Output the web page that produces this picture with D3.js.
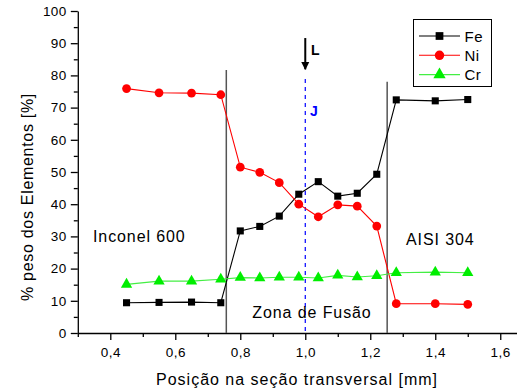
<!DOCTYPE html>
<meta charset="utf-8">
<title>Perfil de composição</title>
<style>
body { margin: 0; background: #fff; }
text { font-family: "Liberation Sans", Arial, sans-serif; }
</style>
<body>
<div id="chart"></div>
<script src="https://cdn.jsdelivr.net/npm/d3@7"></script>
<script>
  // posições medidas (mm) e % peso de cada elemento
  var posicao = [0.45, 0.55, 0.65, 0.74, 0.80, 0.86, 0.92, 0.98, 1.04, 1.10, 1.16, 1.22, 1.28, 1.40, 1.50];
  var fe = [9.4, 9.5, 9.6, 9.4, 31.7, 33.1, 36.3, 43.1, 47.0, 42.5, 43.4, 49.3, 72.4, 72.1, 72.5];
  var ni = [75.9, 74.6, 74.5, 74.0, 51.5, 49.9, 46.7, 40.0, 36.1, 39.8, 39.4, 33.2, 9.1, 9.1, 8.9];
  var cr = [15.1, 16.1, 16.1, 16.7, 17.2, 17.1, 17.3, 17.3, 17.1, 17.9, 17.4, 17.8, 18.7, 18.9, 18.7];
  var xTicks = [0.4, 0.6, 0.8, 1.0, 1.2, 1.4, 1.6];
  var xMinor = [0.3, 0.5, 0.7, 0.9, 1.1, 1.3, 1.5];
  var yTicks = [0, 10, 20, 30, 40, 50, 60, 70, 80, 90, 100];
  var yMinor = [5, 15, 25, 35, 45, 55, 65, 75, 85, 95];
  // limites da zona de fusão, linha J e seta L
  var limites = [{x: 0.757, top: 81.7}, {x: 1.252, top: 78}];
  var linhaJ = {x: 1.0, top: 78.9};
  var setaL = {x: 1.0, from: 91.6, to: 81.9};

  var width = 517, height = 388;
  var svg = d3.select("#chart").append("svg")
      .attr("width", width)
      .attr("height", height);

  var x = d3.scaleLinear().domain([0.3, 1.65]).range([77.8, 516.5]);
  var y = d3.scaleLinear().domain([0, 100]).range([333, 11]);
  var fmt = function(d) { return d3.format(".1f")(d).replace(".", ","); };

  // eixo x
  var gx = svg.append("g").attr("transform", "translate(0," + y(0) + ")");
  gx.append("g").call(d3.axisBottom(x).tickValues(xMinor).tickSize(4).tickFormat(""))
    .call(function(g) { g.select(".domain").remove(); });
  gx.append("g").call(d3.axisBottom(x).tickValues(xTicks).tickSize(7).tickFormat(fmt).tickSizeOuter(0));
  gx.selectAll("text").attr("font-size", 13.5).attr("letter-spacing", 0.5).attr("dy", "1.05em");
  gx.selectAll("line, path").attr("stroke", "#000").attr("stroke-width", 1.3);

  // eixo y
  var gy = svg.append("g").attr("transform", "translate(" + x(0.3) + ",0)");
  gy.append("g").call(d3.axisLeft(y).tickValues(yMinor).tickSize(4).tickFormat(""))
    .call(function(g) { g.select(".domain").remove(); });
  gy.append("g").call(d3.axisLeft(y).tickValues(yTicks).tickSize(7).tickFormat(d3.format("d")).tickSizeOuter(0));
  gy.selectAll("text").attr("font-size", 13.5).attr("letter-spacing", 0.3).attr("dx", "-0.1em");
  gy.selectAll("line, path").attr("stroke", "#000").attr("stroke-width", 1.3);

  svg.append("text")
      .attr("x", 297).attr("y", 385)
      .attr("text-anchor", "middle").attr("font-size", 16).attr("letter-spacing", 1)
      .text("Posição na seção transversal [mm]");
  svg.append("text")
      .attr("transform", "translate(33,197) rotate(-90)")
      .attr("text-anchor", "middle").attr("font-size", 16).attr("letter-spacing", 0.7)
      .text("% peso dos Elementos [%]");

  // linhas de limite
  svg.selectAll(".limite").data(limites).enter().append("line")
      .attr("class", "limite")
      .attr("x1", function(d) { return x(d.x); }).attr("x2", function(d) { return x(d.x); })
      .attr("y1", function(d) { return y(d.top); }).attr("y2", y(0))
      .attr("stroke", "#555").attr("stroke-width", 1.5);

  svg.append("line")
      .attr("x1", x(linhaJ.x)).attr("x2", x(linhaJ.x))
      .attr("y1", y(linhaJ.top)).attr("y2", y(0))
      .attr("stroke", "#0000ff").attr("stroke-width", 1.2)
      .attr("stroke-dasharray", "4,4");

  svg.append("defs").append("marker")
      .attr("id", "ponta").attr("viewBox", "0 0 10 10")
      .attr("refX", 9).attr("refY", 5)
      .attr("markerWidth", 4).attr("markerHeight", 5)
      .attr("markerUnits", "strokeWidth")
      .attr("orient", "auto")
    .append("path").attr("d", "M0,0L10,5L0,10z").attr("fill", "#000");
  svg.append("line")
      .attr("x1", x(setaL.x)).attr("x2", x(setaL.x))
      .attr("y1", y(setaL.from)).attr("y2", y(setaL.to))
      .attr("stroke", "#000").attr("stroke-width", 2)
      .attr("marker-end", "url(#ponta)");

  svg.append("text").attr("x", 311).attr("y", 55)
      .attr("font-size", 14).attr("font-weight", "bold").text("L");
  svg.append("text").attr("x", 310).attr("y", 116)
      .attr("font-size", 14).attr("font-weight", "bold").attr("fill", "#0000ff").text("J");

  svg.append("text").attr("x", 93).attr("y", 242).attr("font-size", 16)
      .attr("letter-spacing", 0.9).text("Inconel 600");
  svg.append("text").attr("x", 406).attr("y", 245).attr("font-size", 16)
      .attr("letter-spacing", 0.9).text("AISI 304");
  svg.append("text").attr("x", 312).attr("y", 318).attr("text-anchor", "middle")
      .attr("font-size", 16).attr("letter-spacing", 0.9).text("Zona de Fusão");

  // séries
  var series = [
    {name: "Fe", values: fe, color: "#000000", line: "#000000", shape: d3.symbolSquare, size: 50},
    {name: "Ni", values: ni, color: "#ff0000", line: "#ff0000", shape: d3.symbolCircle, size: 60},
    {name: "Cr", values: cr, color: "#00ee00", line: "#44ee44", shape: d3.symbolTriangle, size: 55}
  ];

  var line = d3.line()
      .x(function(d) { return x(d[0]); })
      .y(function(d) { return y(d[1]); });

  series.forEach(function(s) {
    var pts = posicao.map(function(p, i) { return [p, s.values[i]]; });
    var g = svg.append("g");
    g.append("path").attr("d", line(pts))
        .attr("fill", "none").attr("stroke", s.line).attr("stroke-width", 1.1);
    g.selectAll("path.pt").data(pts).enter().append("path")
        .attr("class", "pt")
        .attr("transform", function(d) { return "translate(" + x(d[0]) + "," + y(d[1]) + ")"; })
        .attr("d", d3.symbol().type(s.shape).size(s.size))
        .attr("fill", s.color);
  });

  // legenda
  var leg = svg.append("g").attr("transform", "translate(413.5,19.5)");
  leg.append("rect").attr("width", 78).attr("height", 67)
      .attr("fill", "#fff").attr("stroke", "#000").attr("stroke-width", 1);
  series.forEach(function(s, i) {
    var ly = 16.5 + i * 19.3;
    leg.append("line").attr("x1", 5.5).attr("x2", 46.5).attr("y1", ly).attr("y2", ly)
        .attr("stroke", s.line).attr("stroke-width", 1.1);
    leg.append("path").attr("transform", "translate(26," + ly + ")")
        .attr("d", d3.symbol().type(s.shape).size(s.size + 10)).attr("fill", s.color);
    leg.append("text").attr("x", 51).attr("y", ly + 5.5).attr("font-size", 15)
        .attr("letter-spacing", 0.5).text(s.name);
  });
</script>
</body>
</html>
